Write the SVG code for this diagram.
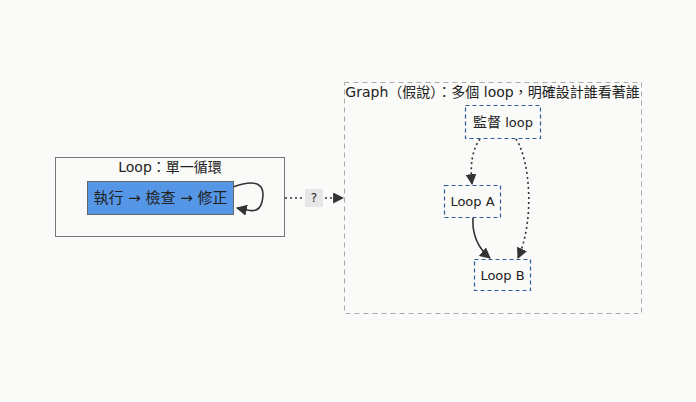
<svg xmlns="http://www.w3.org/2000/svg" width="696" height="402" viewBox="0 0 696 402">
<style>
text{font-family:"DejaVu Sans","Noto Sans CJK TC",sans-serif;font-size:13px;fill:#222;text-anchor:middle;dominant-baseline:central}
.t{font-size:14px}
.cl{fill:#fafaf8;stroke:#777;stroke-width:1}
.cl2{fill:#fafaf8;stroke:#aaa;stroke-width:1;stroke-dasharray:5 4}
.nd{fill:#fafaf8;stroke:#2d5e9e;stroke-width:1.2;stroke-dasharray:4 3}
.e{fill:none;stroke:#333;stroke-width:1.6}
.dot{stroke-dasharray:2 3}
</style>
<defs>
<marker id="ah2" viewBox="0 0 10 10" refX="9" refY="5" markerWidth="11" markerHeight="11" orient="auto" markerUnits="userSpaceOnUse">
<path d="M0,0 L10,5 L0,10 z" fill="#333"/>
</marker>
</defs>
<rect width="696" height="402" fill="#fafaf8"/>
<g id="cluster-loop">
<rect class="cl" x="55.5" y="157.5" width="229" height="79"/>
<text class="t" x="170" y="167">Loop：單一循環</text>
</g>
<g id="cluster-graph">
<rect class="cl2" x="344.5" y="82.5" width="297" height="231"/>
<text class="t" x="492.5" y="92">Graph（假說）：多個 loop，明確設計誰看著誰</text>
</g>
<g id="connectors">
<path class="e" d="M233,187 C258,178 266,185 262,202 C259,214 250,211 237,208" marker-end="url(#ah2)"/>
<path class="e dot" d="M285,198 L343,198" marker-end="url(#ah2)"/>
<rect x="305" y="189" width="18" height="18" fill="#e6e6e6"/>
<text x="314" y="198" style="font-size:12px">?</text>
<path class="e dot" d="M480,139 C472,150 470,165 472,184" marker-end="url(#ah2)"/>
<path class="e dot" d="M516,139 C530,160 535,220 518,258" marker-end="url(#ah2)"/>
<path class="e" d="M473,218 C472,235 478,248 490,258" marker-end="url(#ah2)"/>
</g>
<g id="node-loop">
<rect x="87.5" y="181.5" width="146" height="33" fill="#5596e6" stroke="#666" stroke-width="1"/>
<text x="160.5" y="198" style="font-size:15px">執行 → 檢查 → 修正</text>
</g>
<g id="node-supervisor">
<rect class="nd" x="465.5" y="105.5" width="75" height="33"/>
<text x="503" y="122"><tspan style="font-size:14px">監督</tspan> loop</text>
</g>
<g id="node-loopA">
<rect class="nd" x="444.5" y="185.5" width="56" height="32"/>
<text x="472.5" y="201">Loop A</text>
</g>
<g id="node-loopB">
<rect class="nd" x="474.5" y="259.5" width="56" height="31"/>
<text x="502.5" y="275">Loop B</text>
</g>
</svg>
